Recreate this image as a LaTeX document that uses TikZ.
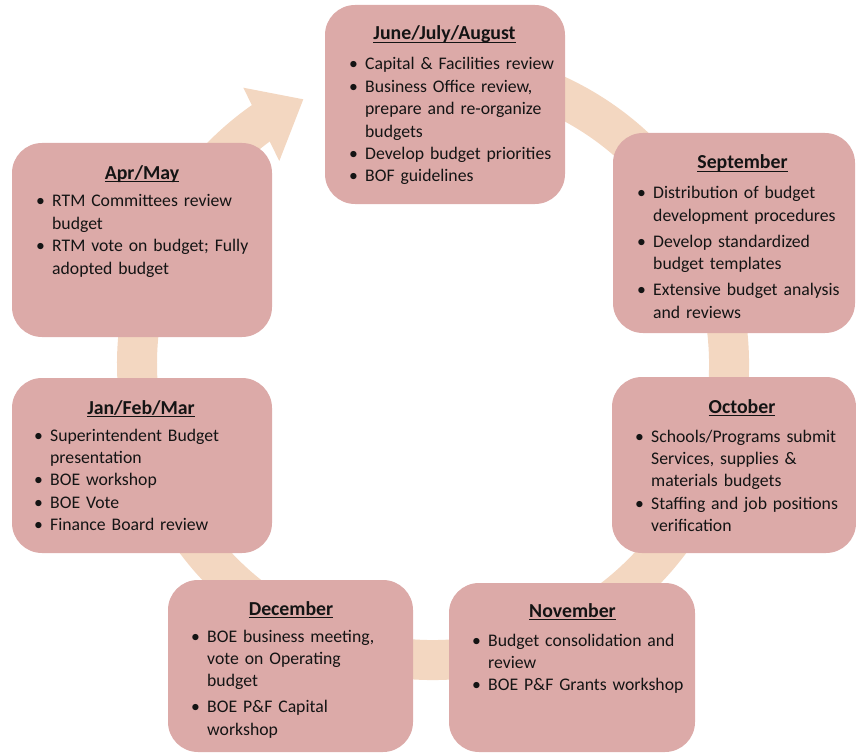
\documentclass[tikz,border=0pt]{standalone}
\usepackage{fontspec}
\setmainfont{Carlito}
\usetikzlibrary{calc}
\definecolor{phasefill}{HTML}{DCAAA8}
\definecolor{cycleband}{HTML}{F3D7C1}
\definecolor{ink}{HTML}{141414}
% bold, underlined heading of a phase box
\newcommand{\phasehead}[1]{\sbox0{\bfseries #1}\rlap{\rule[-3pt]{\wd0}{0.95pt}}\usebox0}
% bullet items with a hanging indent
\newcommand{\bfirst}{\hangindent=16pt\hangafter=1\makebox[16pt][l]{\textbullet}}
\newcommand{\bnext}{\par\bfirst}
\newcommand{\bgap}{\par\vspace{3.6pt}\bfirst}

\begin{document}
\begin{tikzpicture}[x=1pt,y=-1pt,
  phase/.style={fill=phasefill, rounded corners=30pt, anchor=north west,
    inner sep=0pt, outer sep=0pt},
  head/.style={anchor=base, inner sep=0pt, text=ink,
    font=\fontsize{19.8}{22.4}\selectfont},
  items/.style={anchor=base west, inner sep=0pt, text=ink, text width=250pt,
    font=\fontsize{17.7}{22.4}\selectfont},
  band/.style={draw=cycleband, line width=40pt},
]
\useasboundingbox (0,0) rectangle (856,754);

% the yearly cycle: a broad ring ending in an arrowhead
\coordinate (hub) at (433,364);
\draw[band] ($(hub)+(260:296)$) arc[start angle=260, end angle=595.5, radius=296];
\coordinate (tipA) at (243.3,87.7);
\coordinate (tipB) at (303.3,99.3);
\coordinate (tipC) at (279.3,161);
\fill[cycleband] (tipA) -- (tipB) -- (tipC) -- cycle;

% phase boxes
\node[phase, minimum width=240pt, minimum height=199pt] (jja) at (325,5) {};
\node[phase, minimum width=242pt, minimum height=200pt] (sep) at (613,133) {};
\node[phase, minimum width=244pt, minimum height=176pt] (oct) at (612,377) {};
\node[phase, minimum width=246pt, minimum height=169pt] (nov) at (449,583) {};
\node[phase, minimum width=245pt, minimum height=172pt] (dec) at (168,580) {};
\node[phase, minimum width=260pt, minimum height=175pt] (jan) at (12,378) {};
\node[phase, minimum width=260pt, minimum height=194pt] (apr) at (12,143) {};

% June/July/August
\node[head] (jjaT) at (444.5,39.5) {\phasehead{June/July/August}};
\node[items] (jjaB) at (349,70) {\bfirst Capital \& Facilities review
  \bnext Business Office review,\newline prepare and re-organize\newline budgets
  \bnext Develop budget priorities
  \bnext BOF guidelines\par};

% September
\node[head] (sepT) at (742.5,169) {\phasehead{September}};
\node[items] (sepB) at (637,199) {\bfirst Distribution of budget\newline development procedures
  \bgap Develop standardized\newline budget templates
  \bgap Extensive budget analysis\newline and reviews\par};

% October
\node[head] (octT) at (742,413) {\phasehead{October}};
\node[items] (octB) at (635,442) {\bfirst Schools/Programs submit\newline Services, supplies \&\newline materials budgets
  \bnext Staffing and job positions\newline verification\par};

% November
\node[head] (novT) at (572.5,617) {\phasehead{November}};
\node[items] (novB) at (472,646) {\bfirst Budget consolidation and\newline review
  \bnext BOE P\&F Grants workshop\par};

% December
\node[head] (decT) at (291,615) {\phasehead{December}};
\node[items] (decB) at (191,642) {\bfirst BOE business meeting,\newline vote on Operating\newline budget
  \bgap BOE P\&F Capital\newline workshop\par};

% Jan/Feb/Mar
\node[head] (janT) at (141,414) {\phasehead{Jan/Feb/Mar}};
\node[items] (janB) at (34,441) {\bfirst Superintendent Budget\newline presentation
  \bnext BOE workshop
  \bnext BOE Vote
  \bnext Finance Board review\par};

% Apr/May
\node[head] (aprT) at (142,179) {\phasehead{Apr/May}};
\node[items] (aprB) at (36,207) {\bfirst RTM Committees review\newline budget
  \bnext RTM vote on budget; Fully\newline adopted budget\par};
\end{tikzpicture}
\end{document}
